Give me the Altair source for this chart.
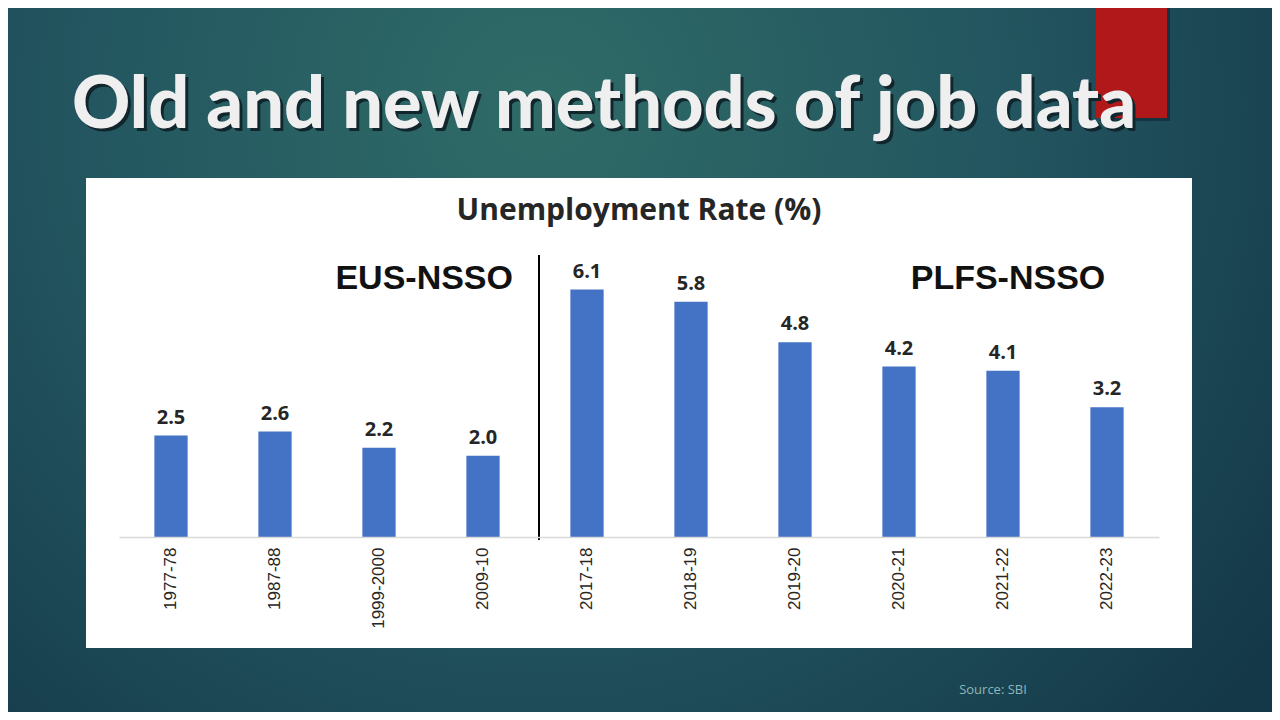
import altair as alt
import pandas as pd

periods = ["1977-78", "1987-88", "1999-2000", "2009-10", "2017-18",
           "2018-19", "2019-20", "2020-21", "2021-22", "2022-23"]
rates = [2.5, 2.6, 2.2, 2.0, 6.1, 5.8, 4.8, 4.2, 4.1, 3.2]

slide_title = "Old and new methods of job data"
chart_title = "Unemployment Rate (%)"
left_group = "EUS-NSSO"
right_group = "PLFS-NSSO"
source_text = "Source: SBI"

df = pd.DataFrame({"period": periods, "rate": rates})
one = pd.DataFrame({"k": [0]})

W, H = 1040, 284
PAD = {"left": 111, "top": 245, "right": 113, "bottom": 175}

bg_grad = {
    "gradient": "radial",
    "x1": 0.42, "y1": 0.3, "r1": 0.0,
    "x2": 0.42, "y2": 0.3, "r2": 0.72,
    "stops": [
        {"offset": 0.0, "color": "#2f6b67"},
        {"offset": 0.5, "color": "#235660"},
        {"offset": 1.0, "color": "#143848"},
    ],
}

background = alt.Chart(one).mark_rect(color=bg_grad).encode(
    x=alt.value(-PAD["left"]), x2=alt.value(W + PAD["right"]),
    y=alt.value(-PAD["top"]), y2=alt.value(H + PAD["bottom"]),
)

red_shadow = alt.Chart(one).mark_rect(color="#0c2630", opacity=0.6).encode(
    x=alt.value(981), x2=alt.value(1051),
    y=alt.value(-260), y2=alt.value(-132),
)
red_rect = alt.Chart(one).mark_rect(color="#b0181a").encode(
    x=alt.value(977), x2=alt.value(1048),
    y=alt.value(-260), y2=alt.value(-135),
)

panel = alt.Chart(one).mark_rect(color="#ffffff").encode(
    x=alt.value(-33), x2=alt.value(1073),
    y=alt.value(-75), y2=alt.value(395),
)

title_font = "Lato"
title_shadow = alt.Chart(one).mark_text(
    font=title_font, fontSize=72, fontWeight=900, color="#10262c",
    align="center", baseline="alphabetic",
).encode(x=alt.value(488), y=alt.value(-122), text=alt.value(slide_title))
title = alt.Chart(one).mark_text(
    font=title_font, fontSize=72, fontWeight=900, color="#efefef",
    align="center", baseline="alphabetic",
).encode(x=alt.value(485), y=alt.value(-125), text=alt.value(slide_title))

ctitle = alt.Chart(one).mark_text(
    font="Open Sans", fontSize=30, fontWeight="bold", color="#262626",
    align="center", baseline="middle",
).encode(x=alt.value(520), y=alt.value(-42), text=alt.value(chart_title))

eus = alt.Chart(one).mark_text(
    font="Liberation Sans", fontSize=34, fontWeight="bold", color="#111111",
    align="right", baseline="middle",
).encode(x=alt.value(394), y=alt.value(26), text=alt.value(left_group))
plfs = alt.Chart(one).mark_text(
    font="Liberation Sans", fontSize=34, fontWeight="bold", color="#111111",
    align="center", baseline="middle",
).encode(x=alt.value(889), y=alt.value(26), text=alt.value(right_group))

xenc = alt.X(
    "period:N", sort=periods,
    scale=alt.Scale(paddingInner=0.68, paddingOuter=0.34),
    axis=alt.Axis(
        title=None, ticks=False, labelAngle=270, labelPadding=10,
        labelFont="Liberation Sans", labelFontSize=17, labelColor="#262626",
        domainColor="#d9d9d9", domainWidth=1.5, zindex=1, grid=False,
    ),
)
yenc = alt.Y("rate:Q", scale=alt.Scale(domain=[0, 7]), axis=None)

bars = alt.Chart(df).mark_bar(color="#4472c4").encode(x=xenc, y=yenc)
labels = alt.Chart(df).mark_text(
    font="Open Sans", fontSize=20, fontWeight="bold", color="#262626",
    dy=-12, baseline="alphabetic",
).encode(x=alt.X("period:N", sort=periods), y=yenc,
         text=alt.Text("rate:Q", format=".1f"))

sep = alt.Chart(one).mark_rule(color="#000000", strokeWidth=2).encode(
    x=alt.value(420), y=alt.value(2), y2=alt.value(287),
)

source = alt.Chart(one).mark_text(
    font="Open Sans", fontSize=13, color="#8fb6ba",
    align="center", baseline="middle",
).encode(x=alt.value(874), y=alt.value(437), text=alt.value(source_text))

chart = alt.layer(
    background, red_shadow, red_rect, title_shadow, title, panel,
    ctitle, eus, plfs, bars, labels, sep, source,
).properties(
    width=W, height=H, padding=PAD,
    autosize=alt.AutoSizeParams(type="none"),
    background="#1b4b55",
).configure_view(stroke=None)

chart.save("out.html", embed_options={"renderer": "svg", "actions": False})
